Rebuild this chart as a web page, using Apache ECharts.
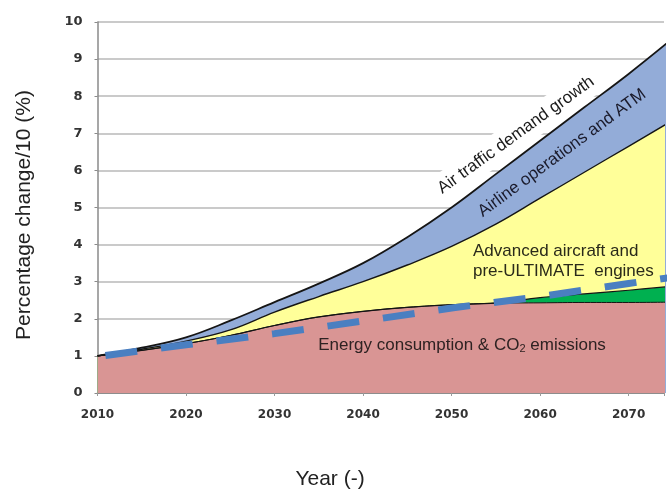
<!DOCTYPE html>
<html>
<head>
<meta charset="utf-8">
<script src="https://cdn.jsdelivr.net/npm/echarts@6/dist/echarts.min.js"></script>
<style>
  html, body { margin: 0; padding: 0; background: #ffffff; }
  #chart { width: 667px; height: 492px; }
</style>
</head>
<body>
<div id="chart"></div>
<script>
// Projection years shared by the stacked bands (cumulative tops, % change / 10)
const years = [2010, 2015, 2020, 2025, 2030, 2035, 2040, 2045, 2050, 2055, 2060, 2065, 2070, 2075];
// Top of the blue band: air traffic demand growth
const trafficDemand = [1.0, 1.22, 1.5, 1.95, 2.45, 2.95, 3.5, 4.2, 5.0, 5.9, 6.8, 7.7, 8.6, 9.56];
// Top of the yellow band: after airline operations and ATM
const advancedAircraft = [1.0, 1.18, 1.4, 1.7, 2.18, 2.6, 3.0, 3.45, 3.95, 4.55, 5.25, 5.95, 6.65, 7.35];
// Top of the green band: ULTIMATE engines
const ultimateEngines = [1.0, 1.15, 1.33, 1.55, 1.82, 2.05, 2.2, 2.31, 2.38, 2.43, 2.57, 2.67, 2.77, 2.88];
// Top of the red band: energy consumption & CO2 emissions
const energyCO2 = [1.0, 1.15, 1.33, 1.55, 1.82, 2.05, 2.2, 2.31, 2.38, 2.42, 2.43, 2.44, 2.44, 2.45];

// Dashed reference trend
const trendYears = [2010, 2020, 2030, 2040, 2050, 2060, 2070, 2080];
const trendValues = [0.98, 1.3, 1.6, 1.94, 2.29, 2.6, 2.95, 3.3];

// Axis ticks
const xTicks = [2010, 2020, 2030, 2040, 2050, 2060, 2070];
const yTicks = [0, 1, 2, 3, 4, 5, 6, 7, 8, 9, 10];

const pairs = (xs, vs) => xs.map((x, i) => [x, vs[i]]);

const FONT = '"Liberation Sans", Arial, sans-serif';
const TICK_FONT = '"DejaVu Sans", Verdana, sans-serif';

function band(name, data, fill, lineWidth) {
  return {
    name: name,
    type: 'line',
    data: data,
    smooth: 0.4,
    symbol: 'none',
    silent: true,
    lineStyle: { color: '#151515', width: lineWidth },
    areaStyle: { color: fill, opacity: 1 }
  };
}

const chart = echarts.init(document.getElementById('chart'), null, { renderer: 'canvas' });

chart.setOption({
  animation: false,
  backgroundColor: '#ffffff',
  grid: { left: 97.5, right: 0, top: 22, bottom: 99, containLabel: false },
  xAxis: {
    type: 'value',
    min: xTicks[0],
    max: 2074,
    interval: 10,
    axisLine: { show: true, lineStyle: { color: '#7a7a7a', width: 1.5 } },
    axisTick: { show: true, length: 3, lineStyle: { color: '#9a9a9a' } },
    splitLine: { show: false },
    axisLabel: {
      margin: 16,
      color: '#333333',
      fontFamily: TICK_FONT,
      fontWeight: 'bold',
      fontSize: 12,
      showMaxLabel: true,
      formatter: v => (xTicks.indexOf(v) >= 0 ? String(v) : '')
    }
  },
  yAxis: {
    type: 'value',
    min: yTicks[0],
    max: yTicks[yTicks.length - 1],
    interval: 1,
    axisLine: { show: true, lineStyle: { color: '#8a8a8a', width: 1.5 } },
    axisTick: { show: true, length: 3, lineStyle: { color: '#8a8a8a' } },
    splitLine: { show: true, lineStyle: { color: '#b8b8b8', width: 1.5 } },
    axisLabel: {
      margin: 15,
      color: '#333333',
      fontFamily: TICK_FONT,
      fontWeight: 'bold',
      fontSize: 13
    }
  },
  series: [
    band('Air traffic demand growth', pairs(years, trafficDemand), '#93acd8', 1.8),
    band('Airline operations and ATM', pairs(years, advancedAircraft), '#ffff99', 1.4),
    band('ULTIMATE engines', pairs(years, ultimateEngines), '#00b050', 1.2),
    band('Energy consumption & CO2 emissions', pairs(years, energyCO2), '#d99594', 1.0),
    {
      name: 'Trend',
      type: 'line',
      data: pairs(trendYears, trendValues),
      symbol: 'none',
      silent: true,
      lineStyle: { color: '#4a7fc1', width: 7, type: [32, 24], dashOffset: 48, cap: 'butt' }
    }
  ],
  graphic: {
    elements: [
      {
        type: 'text', z: 100, x: 24, y: 215, rotation: Math.PI / 2,
        style: { text: 'Percentage change/10 (%)', fontFamily: FONT, fontSize: 21, fill: '#222222', align: 'center', verticalAlign: 'middle' }
      },
      {
        type: 'text', z: 100, x: 330, y: 479,
        style: { text: 'Year (-)', fontFamily: FONT, fontSize: 21, fill: '#222222', align: 'center', verticalAlign: 'middle' }
      },
      {
        type: 'text', z: 100, x: 516, y: 135, rotation: 35.8 * Math.PI / 180,
        style: {
          text: 'Air traffic demand growth', fontFamily: FONT, fontSize: 17, fill: '#1a1a1a',
          align: 'center', verticalAlign: 'middle', backgroundColor: '#ffffff', padding: [6, 6]
        }
      },
      {
        type: 'text', z: 100, x: 562, y: 153, rotation: 36.4 * Math.PI / 180,
        style: { text: 'Airline operations and ATM', fontFamily: FONT, fontSize: 17, fill: '#1a1a2a', align: 'center', verticalAlign: 'middle' }
      },
      {
        type: 'text', z: 100, x: 473, y: 261,
        style: {
          text: 'Advanced aircraft and\npre-ULTIMATE  engines', fontFamily: FONT, fontSize: 17, lineHeight: 20,
          fill: '#2a2a1a', align: 'left', verticalAlign: 'middle'
        }
      },
      {
        type: 'text', z: 100, x: 462, y: 345,
        style: {
          text: 'Energy consumption & CO{sub|2} emissions', fontFamily: FONT, fontSize: 17,
          fill: '#2e2222', align: 'center', verticalAlign: 'middle',
          rich: { sub: { fontFamily: FONT, fontSize: 11, fill: '#2e2222', padding: [8, 0, 0, 0] } }
        }
      }
    ]
  }
});
</script>
</body>
</html>
